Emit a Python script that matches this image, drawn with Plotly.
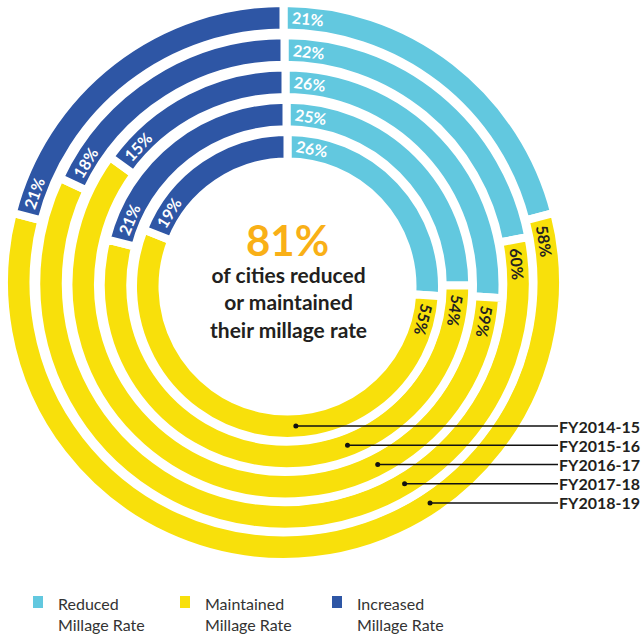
import math
import plotly.graph_objects as go

# ---------------- data ----------------
years = ["FY2018-19", "FY2017-18", "FY2016-17", "FY2015-16", "FY2014-15"]  # outer -> inner ring
categories = ["Reduced Millage Rate", "Maintained Millage Rate", "Increased Millage Rate"]
reduced = [21, 22, 26, 25, 26]
maintained = [58, 60, 59, 54, 55]
increased = [21, 18, 15, 21, 19]
legend_labels = ["Reduced<br>Millage Rate", "Maintained<br>Millage Rate", "Increased<br>Millage Rate"]
headline_value = "81%"
headline_text = "of cities reduced<br>or maintained<br>their millage rate"

# ---------------- style ----------------
W, H = 643, 635
colors = ["#62C8DF", "#F8E00B", "#2E56A5"]
label_colors = ["#FFFFFF", "#231F20", "#FFFFFF"]
DARK = "#231F20"
ORANGE = "#F9B017"
FONT = "Lato"
GAP = 8          # white gap between segments (px)
THICK = 21.5     # ring thickness (px)
OFFSET = 25      # label distance from segment start along the arc (px)


def ring_geom(k):
    cx = 283.5 + k
    cy = 282.5 + k
    R = 275.5 - 31.25 * k
    return cx, cy, R


fig = go.Figure()
annotations = []
shapes = []

for k, yr in enumerate(years):
    cx, cy, R = ring_geom(k)
    Ro = R + GAP / 2
    Ri = R - THICK - GAP / 2
    vals = [reduced[k], maintained[k], increased[k]]
    fig.add_trace(go.Pie(
        labels=categories, values=vals, sort=False, direction="clockwise",
        rotation=0, hole=Ri / Ro,
        domain=dict(x=[(cx - Ro) / W, (cx + Ro) / W],
                    y=[(H - cy - Ro) / H, (H - cy + Ro) / H]),
        marker=dict(colors=colors, line=dict(color="white", width=GAP)),
        textinfo="none", hovertemplate=yr + "<br>%{label}: %{value}%<extra></extra>",
        showlegend=False, name=yr,
    ))

    # percentage labels at the start of each segment
    rmid = R - THICK / 2
    total = sum(vals)
    cum = 0
    for j, v in enumerate(vals):
        start = 360.0 * cum / total
        cum += v
        th = start + math.degrees(OFFSET / rmid)
        t = math.radians(th)
        xp = cx + rmid * math.sin(t)
        yp = cy - rmid * math.cos(t)
        ang = th if th <= 180 else th - 360
        annotations.append(dict(
            x=xp / W, y=1 - yp / H, xref="paper", yref="paper",
            text=f"{v}%", textangle=ang, showarrow=False,
            xanchor="center", yanchor="middle",
            font=dict(family=FONT, size=16, color=label_colors[j], weight=700),
        ))

    # year call-out line
    y_line = 426 + 19.25 * (len(years) - 1 - k)
    dx = math.sqrt(max(rmid ** 2 - (y_line - cy) ** 2, 0))
    x_dot = cx + dx
    shapes.append(dict(type="line", xref="paper", yref="paper",
                       x0=x_dot / W, x1=558 / W, y0=1 - y_line / H, y1=1 - y_line / H,
                       line=dict(color="#111111", width=1.3)))
    shapes.append(dict(type="circle", xref="paper", yref="paper",
                       x0=(x_dot - 2.5) / W, x1=(x_dot + 2.5) / W,
                       y0=1 - (y_line + 2.5) / H, y1=1 - (y_line - 2.5) / H,
                       fillcolor="#111111", line=dict(width=0)))
    annotations.append(dict(
        x=642 / W, y=1 - y_line / H, xref="paper", yref="paper",
        text=yr, showarrow=False, xanchor="right", yanchor="middle",
        font=dict(family=FONT, size=16, color=DARK, weight=700),
    ))

# centre text
annotations.append(dict(x=287 / W, y=1 - 240 / H, xref="paper", yref="paper",
                        text=headline_value, showarrow=False,
                        xanchor="center", yanchor="middle",
                        font=dict(family=FONT, size=42, color=ORANGE, weight=700)))
annotations.append(dict(x=288 / W, y=1 - 302 / H, xref="paper", yref="paper",
                        text=headline_text, showarrow=False,
                        xanchor="center", yanchor="middle", align="center",
                        font=dict(family=FONT, size=21, color=DARK, weight=700)))

# legend (manual)
legend_x = [33, 180, 332]
for j, lab in enumerate(legend_labels):
    x0 = legend_x[j]
    shapes.append(dict(type="rect", xref="paper", yref="paper",
                       x0=x0 / W, x1=(x0 + 10) / W, y0=1 - 608 / H, y1=1 - 596 / H,
                       fillcolor=colors[j], line=dict(width=0)))
    annotations.append(dict(x=(x0 + 23) / W, y=1 - 613.5 / H, xref="paper", yref="paper",
                            text=lab, showarrow=False, xanchor="left", yanchor="middle",
                            align="left",
                            font=dict(family=FONT, size=16, color="#333333")))

fig.update_layout(
    width=W, height=H, autosize=False,
    margin=dict(l=0, r=0, t=0, b=0),
    paper_bgcolor="white", plot_bgcolor="white",
    showlegend=False,
    annotations=annotations, shapes=shapes,
)

fig.write_html("out.html",
               config={"displayModeBar": False},
               post_script="document.body.style.margin='0';document.body.style.padding='0';"
                           "document.body.style.overflow='hidden';")
